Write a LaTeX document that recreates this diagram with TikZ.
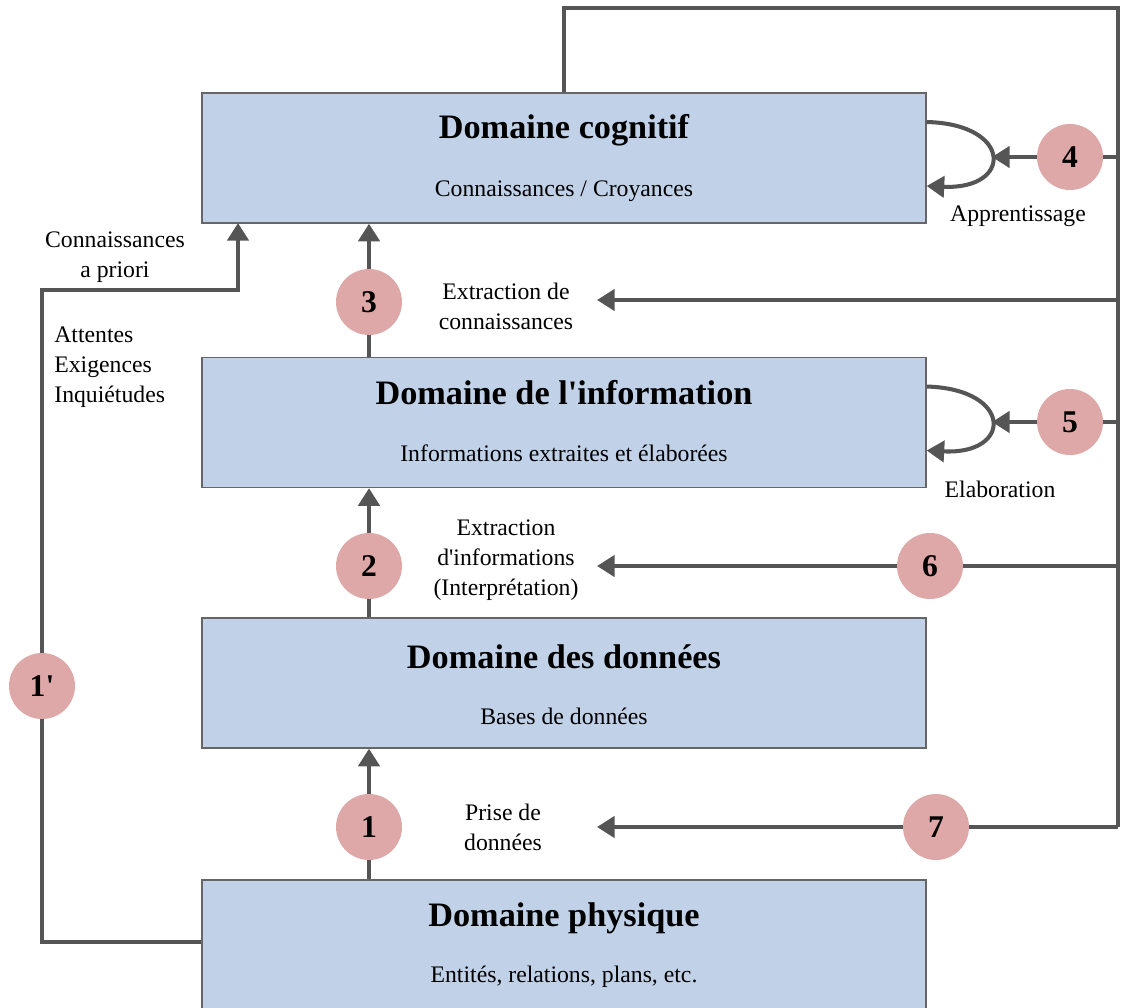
\documentclass[tikz,border=0pt]{standalone}
\usepackage{fontspec}
\setmainfont{Liberation Serif}
\usetikzlibrary{arrows.meta,positioning}

\definecolor{boxblue}{HTML}{C1D2E8}
\definecolor{numpink}{HTML}{DFA8A8}
\definecolor{flowgray}{HTML}{555555}

\begin{document}
\begin{tikzpicture}[x=0.02cm, y=-0.02cm, >={Triangle[length=10pt,width=12pt]},
    flow/.style={draw=flowgray, line width=2.3pt},
    box/.style={draw=gray!80!black, line width=0.8pt, fill=boxblue,
        minimum width=14.48cm, minimum height=2.6cm, inner sep=0pt},
    ttl/.style={font=\fontsize{19.5}{23}\selectfont\bfseries},
    sub/.style={font=\fontsize{13.5}{17}\selectfont},
    lbl/.style={font=\fontsize{13.5}{17}\selectfont, align=center},
    num/.style={circle, fill=numpink, minimum size=1.32cm, inner sep=0pt,
        font=\fontsize{18}{20}\selectfont\bfseries}]
    \useasboundingbox (0,0) rectangle (1121,1007);
    \clip (0,0) rectangle (1121,1007);

    % domains
    \node[box] (cog) at (564,158) {};
    \node[box] (inf) at (564,422.5) {};
    \node[box] (dat) at (564,683) {};
    \node[box, minimum height=2.7cm] (phy) at (564,947.5) {};

    \node[ttl] (cogT) at (564,130) {Domaine cognitif};
    \node[sub] (cogS) at (564,191) {Connaissances / Croyances};
    \node[ttl] (infT) at (564,393) {Domaine de l\textquotesingle information};
    \node[sub] (infS) at (564,453) {Informations extraites et élaborées};
    \node[ttl] (datT) at (564,657) {Domaine des données};
    \node[sub] (datS) at (564,716) {Bases de données};
    \node[ttl] (phyT) at (564,918) {Domaine physique};
    \node[sub] (phyS) at (564,977) {Entités, relations, plans, etc.};

    % numbered steps
    \node[num] (n1) at (369,827) {1};
    \node[num] (n2) at (369,566) {2};
    \node[num] (n3) at (369,302) {3};
    \node[num] (n4) at (1070,157) {4};
    \node[num] (n5) at (1070,422) {5};
    \node[num] (n6) at (930,566) {6};
    \node[num] (n7) at (936,827) {7};
    \node[num] (n1p) at (42,686) {1\textquotesingle};

    % labels
    \node[lbl] (kp) at (115,257) {Connaissances\\a priori};
    \node[lbl, align=left, anchor=west, inner sep=0pt] (att) at (54,367)
        {Attentes\\Exigences\\Inquiétudes};
    \node[lbl] (ec) at (506,306) {Extraction de\\connaissances};
    \node[lbl] (ei) at (506,560) {Extraction\\d\textquotesingle informations\\(Interprétation)};
    \node[lbl] (pd) at (503,827) {Prise de\\données};
    \node[lbl] (app) at (1018,216) {Apprentissage};
    \node[lbl] (ela) at (1000,489) {Elaboration};

    \coordinate (tl) at (564,8);
    \coordinate (tr) at (1118,8);
    \coordinate (r3) at (1118,300);
    \coordinate (r4) at (1118,157);
    \coordinate (r5) at (1118,422);
    \coordinate (r6) at (1118,566);
    \coordinate (r7) at (1118,827);
    \coordinate (t3) at (597,300);
    \coordinate (t6) at (597,566);
    \coordinate (t7) at (597,827);
    \coordinate (l4) at (992,157);
    \coordinate (l5) at (992,422);
    \coordinate (bl) at (42,942);
    \coordinate (ml) at (42,290);
    \coordinate (mr) at (238,290);
    \coordinate (cogB) at (238,223);

    % upward chain
    \draw[flow] (phy.north -| n1) -- (n1);
    \draw[flow,->] (n1) -- (dat.south -| n1);
    \draw[flow] (dat.north -| n2) -- (n2);
    \draw[flow,->] (n2) -- (inf.south -| n2);
    \draw[flow] (inf.north -| n3) -- (n3);
    \draw[flow,->] (n3) -- (cog.south -| n3);

    % feedback from the cognitive domain
    \draw[flow] (cog.north) -- (tl) -- (tr) -- (r7);
    \draw[flow,->] (r3) -- (t3);
    \draw[flow] (r4) -- (n4);
    \draw[flow,->] (n4) -- (l4);
    \draw[flow] (r5) -- (n5);
    \draw[flow,->] (n5) -- (l5);
    \draw[flow] (r6) -- (n6);
    \draw[flow,->] (n6) -- (t6);
    \draw[flow] (r7) -- (n7);
    \draw[flow,->] (n7) -- (t7);

    % loops
    \draw[flow,->] ([yshift=0.72cm]cog.east) .. controls (1013,124) and (1013,190) .. ([yshift=-0.56cm]cog.east);
    \draw[flow,->] ([yshift=0.72cm]inf.east) .. controls (1013,389) and (1013,455) .. ([yshift=-0.56cm]inf.east);

    % a priori path
    \draw[flow] (phy.west |- bl) -- (bl) -- (n1p);
    \draw[flow,->] (n1p) -- (ml) -- (mr) -- (cogB);
\end{tikzpicture}
\end{document}
